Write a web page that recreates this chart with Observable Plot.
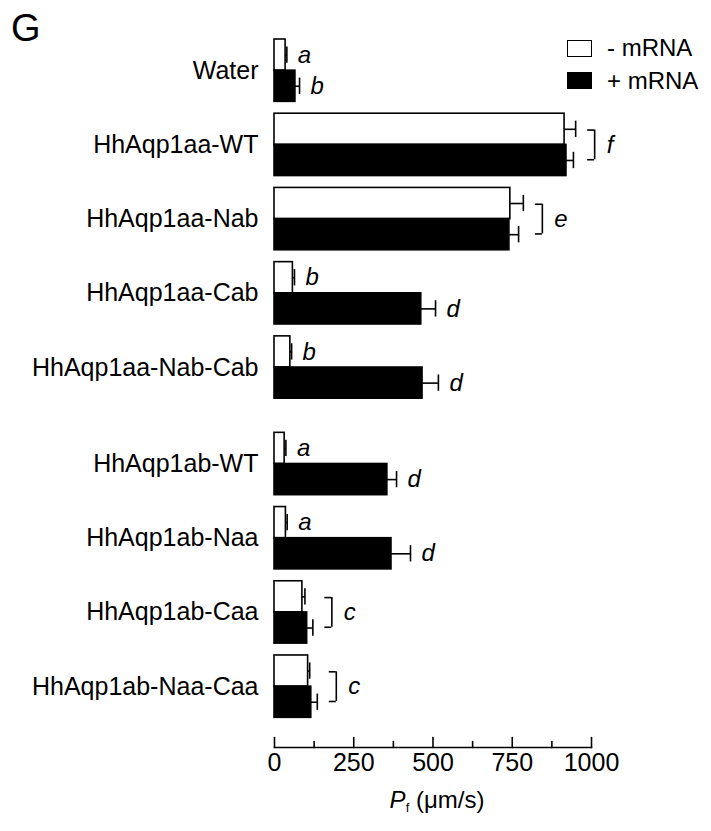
<!DOCTYPE html>
<html><head><meta charset="utf-8">
<script src="https://cdn.jsdelivr.net/npm/d3@7"></script>
<script src="https://cdn.jsdelivr.net/npm/@observablehq/plot@0.6"></script>
<style>
body{margin:0;background:#fff;font-family:"Liberation Sans",Arial,Helvetica,sans-serif;color:#000;}
#wrap{position:relative;width:711px;height:831px;overflow:hidden;}
#wrap svg{position:absolute;left:0;top:0;}
#panel{position:absolute;left:11px;top:9px;font-size:38px;line-height:1;}
#legend{position:absolute;left:567px;top:36px;font-size:24px;}
#legend .row{display:flex;align-items:center;height:24px;margin-bottom:8.5px;white-space:nowrap;}
#legend .sw{width:25px;height:17px;box-sizing:border-box;border:1.5px solid #000;margin-right:15px;}
#xlabel{position:absolute;left:337px;width:200px;top:788px;line-height:24px;text-align:center;font-size:24px;white-space:nowrap;}
#xlabel sub{font-size:13px;vertical-align:-4px;}
</style></head><body><div id="wrap"></div>
<script>
const categories = ["Water","HhAqp1aa-WT","HhAqp1aa-Nab","HhAqp1aa-Cab","HhAqp1aa-Nab-Cab","HhAqp1ab-WT","HhAqp1ab-Naa","HhAqp1ab-Caa","HhAqp1ab-Naa-Caa"];
const minusMean = [35, 915, 744, 58, 50, 32, 36, 88, 106];
const minusErr  = [4, 35, 41, 5, 4, 4, 4, 8, 5];
const plusMean  = [66, 921, 741, 463, 467, 356, 369, 103, 116];
const plusErr   = [13, 22, 29, 45, 50, 29, 60, 18, 19];
const minusLetters = ["a","f","e","b","b","a","a","c","c"];
const plusLetters  = ["b","f","e","d","d","d","d","c","c"];
const seriesNames = ["- mRNA", "+ mRNA"];
const xTicks = [0, 250, 500, 750, 1000];
const xMinorTicks = [125, 375, 625, 875];
const xLabelUnit = "(μm/s)";

const gapStart = categories.findIndex(c => c.startsWith("HhAqp1ab"));
const half = 0.42;
const rows = categories.map((c, i) => {
  const pos = i + (i >= gapStart ? 0.3 : 0);
  const shared = minusLetters[i] === plusLetters[i];
  return {c, pos, shared, letter: minusLetters[i],
    maxErr: Math.max(minusMean[i] + minusErr[i], plusMean[i] + plusErr[i])};
});
const bars = rows.flatMap((r, i) => [
  {series: "-", pos: r.pos, y1: r.pos - half, y2: r.pos, ctr: r.pos - half / 2, mean: minusMean[i], err: minusErr[i], letter: minusLetters[i], shared: r.shared},
  {series: "+", pos: r.pos, y1: r.pos, y2: r.pos + half, ctr: r.pos + half / 2, mean: plusMean[i], err: plusErr[i], letter: plusLetters[i], shared: r.shared}
]);
const sharedRows = rows.filter(r => r.shared);
const arms = sharedRows.flatMap(r => [{x: r.maxErr, y: r.pos - 0.2}, {x: r.maxErr, y: r.pos + 0.2}]);
const tickShape = {draw(ctx, l) { ctx.moveTo(0, 0); ctx.lineTo(0, -l); }};

const chart = Plot.plot({
  width: 711, height: 831,
  marginLeft: 274, marginRight: 120, marginTop: 39, marginBottom: 84,
  style: {fontFamily: '"Liberation Sans", Arial, Helvetica, sans-serif', fontSize: "24px", background: "white", color: "black"},
  x: {domain: [0, 1000], axis: null},
  y: {domain: [-half, 9.12], reverse: true, axis: null},
  marks: [
    Plot.rect(bars.filter(d => d.series === "-"), {x1: 0, x2: "mean", y1: "y1", y2: "y2", fill: "white", stroke: "black", strokeWidth: 1.6}),
    Plot.rect(bars.filter(d => d.series === "+"), {x1: 0, x2: "mean", y1: "y1", y2: "y2", fill: "black", stroke: "black", strokeWidth: 1.6}),
    Plot.ruleY(bars, {y: "ctr", x1: "mean", x2: d => d.mean + d.err, strokeWidth: 1.6}),
    Plot.ruleX(bars, {x: d => d.mean + d.err, y1: d => d.ctr - 0.11, y2: d => d.ctr + 0.11, strokeWidth: 1.6}),
    Plot.text(bars.filter(d => !d.shared), {x: d => d.mean + d.err, y: "ctr", text: "letter", dx: 11, textAnchor: "start", fontStyle: "italic", fontSize: 24}),
    Plot.ruleX(sharedRows, {x: "maxErr", y1: d => d.pos - 0.2, y2: d => d.pos + 0.2, dx: 19, strokeWidth: 1.6}),
    Plot.ruleY(arms, {y: "y", x1: "x", x2: d => d.x + 22, dx: 12, strokeWidth: 1.6}),
    Plot.text(sharedRows, {x: "maxErr", y: "pos", text: "letter", dx: 31, textAnchor: "start", fontStyle: "italic", fontSize: 24}),
    Plot.text(rows, {x: 0, y: "pos", text: "c", textAnchor: "end", dx: -16, fontSize: 25}),
    Plot.frame({anchor: "bottom", strokeWidth: 1.6}),
    Plot.vector(xTicks, {x: d => d, frameAnchor: "bottom", length: 10, rotate: 0, anchor: "start", shape: tickShape, strokeWidth: 1.6}),
    Plot.vector(xMinorTicks, {x: d => d, frameAnchor: "bottom", length: 6, rotate: 0, anchor: "start", shape: tickShape, strokeWidth: 1.6}),
    Plot.axisX(xTicks, {tickSize: 0, tickPadding: 6, fontSize: 25, tickFormat: d => String(d)})
  ]
});
const wrap = document.getElementById("wrap");
wrap.appendChild(chart);

const panel = document.createElement("div");
panel.id = "panel"; panel.textContent = "G";
wrap.appendChild(panel);

const legend = document.createElement("div");
legend.id = "legend";
seriesNames.forEach((name, i) => {
  const row = document.createElement("div"); row.className = "row";
  const sw = document.createElement("div"); sw.className = "sw";
  sw.style.background = i === 0 ? "white" : "black";
  const t = document.createElement("span"); t.textContent = name;
  row.appendChild(sw); row.appendChild(t); legend.appendChild(row);
});
wrap.appendChild(legend);

const xl = document.createElement("div");
xl.id = "xlabel";
xl.innerHTML = "<i>P</i><sub>f</sub> " + xLabelUnit;
wrap.appendChild(xl);
</script>
</body></html>
